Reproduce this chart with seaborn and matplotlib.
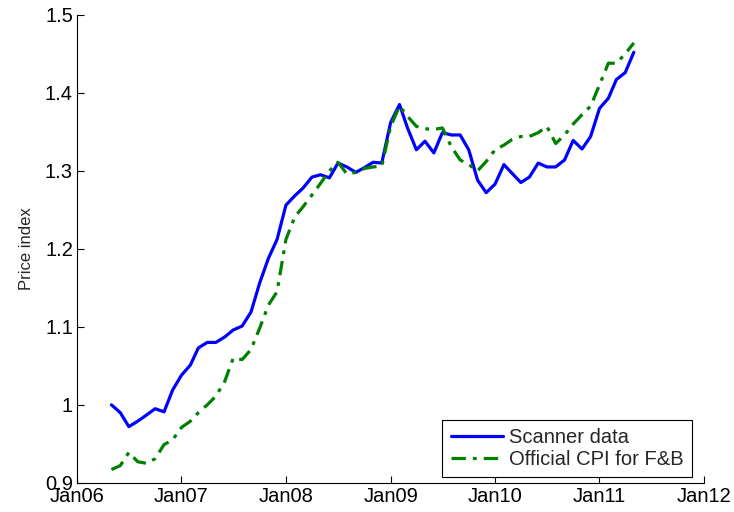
import matplotlib
matplotlib.use("Agg")
import matplotlib.pyplot as plt
import matplotlib.dates as mdates
import pandas as pd
import seaborn as sns

# monthly observations, May 2006 .. May 2011
start_month = "2006-05-01"
scanner = [
    1.000, 0.990, 0.972, 0.979, 0.987, 0.995, 0.991, 1.019,              # 2006
    1.038, 1.051, 1.073, 1.080, 1.080, 1.087, 1.096, 1.101, 1.119, 1.156, 1.188, 1.212,  # 2007
    1.256, 1.268, 1.278, 1.292, 1.295, 1.291, 1.310, 1.305, 1.298, 1.304, 1.311, 1.310,  # 2008
    1.362, 1.385, 1.355, 1.327, 1.338, 1.323, 1.349, 1.346, 1.346, 1.327, 1.288, 1.272,  # 2009
    1.283, 1.308, 1.297, 1.285, 1.292, 1.310, 1.305, 1.305, 1.314, 1.339, 1.328, 1.344,  # 2010
    1.380, 1.393, 1.417, 1.426, 1.452,                                   # 2011
]
cpi = [
    0.917, 0.922, 0.939, 0.927, 0.925, 0.931, 0.949, 0.955,
    0.971, 0.979, 0.990, 1.000, 1.011, 1.030, 1.060, 1.058, 1.071, 1.098, 1.128, 1.145,
    1.212, 1.241, 1.254, 1.269, 1.284, 1.300, 1.311, 1.296, 1.298, 1.303, 1.305, 1.306,
    1.357, 1.383, 1.370, 1.357, 1.354, 1.353, 1.355, 1.331, 1.314, 1.308, 1.300, 1.312,
    1.327, 1.333, 1.340, 1.344, 1.344, 1.349, 1.357, 1.335, 1.346, 1.360, 1.372, 1.383,
    1.410, 1.438, 1.438, 1.450, 1.464,
]
series_names = ["Scanner data", "Official CPI for F&B"]
y_ticks = [0.9, 1.0, 1.1, 1.2, 1.3, 1.4, 1.5]
y_tick_labels = ["0.9", "1", "1.1", "1.2", "1.3", "1.4", "1.5"]
x_tick_years = [2006, 2007, 2008, 2009, 2010, 2011, 2012]

dates = pd.date_range(start_month, periods=len(scanner), freq="MS")
df = pd.DataFrame({"date": dates, "scanner": scanner, "cpi": cpi})

sns.set_style("white")
plt.rcParams["font.family"] = ["Liberation Sans", "DejaVu Sans"]

fig = plt.figure(figsize=(7.34, 5.12), dpi=100)
ax = fig.add_axes([0.105, 0.057, 0.854, 0.914])

sns.lineplot(data=df, x="date", y="scanner", ax=ax, color="#0000ff",
             linewidth=2.3, label=series_names[0])
sns.lineplot(data=df, x="date", y="cpi", ax=ax, color="#008000",
             linewidth=2.3, label=series_names[1])
ax.lines[1].set_dashes((4.5, 2.2, 1.2, 2.2))

ax.set_xlim(pd.Timestamp("2006-01-01"), pd.Timestamp("2012-01-01"))
ax.set_ylim(0.9, 1.5)
ax.set_xticks([pd.Timestamp(f"{y}-01-01") for y in x_tick_years])
ax.xaxis.set_major_formatter(mdates.DateFormatter("%b%y"))
ax.set_yticks(y_ticks)
ax.set_yticklabels(y_tick_labels)
ax.set_xlabel("")
ax.set_ylabel("Price index", fontsize=12, labelpad=8)

ax.tick_params(direction="in", length=5, width=0.8, labelsize=14.5,
               colors="black", left=True, bottom=True, pad=3)
for side in ["top", "right"]:
    ax.spines[side].set_visible(False)
for side in ["left", "bottom"]:
    ax.spines[side].set_color("black")
    ax.spines[side].set_linewidth(0.8)

leg = ax.legend(loc="lower right", fontsize=14.5, frameon=True, fancybox=False,
                framealpha=1, edgecolor="black", handlelength=2.6,
                borderpad=0.4, labelspacing=0.15, handletextpad=0.3,
                borderaxespad=0.3, bbox_to_anchor=(0.99, 0.0))
leg.get_frame().set_linewidth(0.8)

fig.savefig("out.png", dpi=100)
